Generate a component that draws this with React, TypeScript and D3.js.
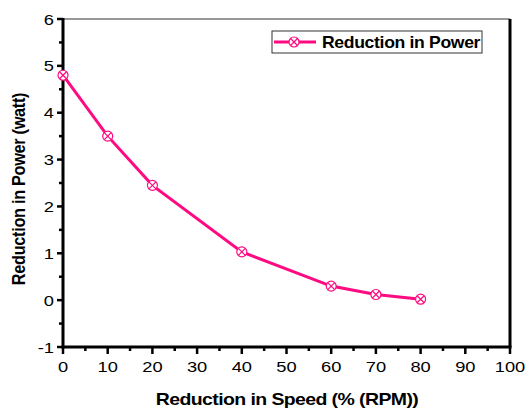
import React from "react";
import * as d3 from "d3";

const speed = [0, 10, 20, 40, 60, 70, 80];
const power = [4.8, 3.5, 2.45, 1.03, 0.3, 0.12, 0.02];
const xTicks = [0, 10, 20, 30, 40, 50, 60, 70, 80, 90, 100];
const yTicks = [-1, 0, 1, 2, 3, 4, 5, 6];
const xMinor = d3.range(5, 100, 10);
const yMinor = d3.range(-0.5, 6, 1);
const seriesName = "Reduction in Power";
const xTitle = "Reduction in Speed (% (RPM))";
const yTitle = "Reduction in Power (watt)";

const COLOR = "#ff0a80";
const FONT = "'Liberation Sans', Arial, sans-serif";
const SX = 1.18;

function Marker({ x, y }: { x: number; y: number }) {
  const r = 5;
  const d = r * 0.7;
  return (
    <g>
      <circle cx={x} cy={y} r={r} fill="white" stroke={COLOR} strokeWidth={1.2} />
      <line x1={x - d} y1={y - d} x2={x + d} y2={y + d} stroke={COLOR} strokeWidth={1.2} />
      <line x1={x - d} y1={y + d} x2={x + d} y2={y - d} stroke={COLOR} strokeWidth={1.2} />
    </g>
  );
}

export default function App() {
  const W = 525, H = 409;
  const left = 63, right = 510, top = 19, bottom = 347;
  const x = d3.scaleLinear().domain([0, 100]).range([left, right]);
  const y = d3.scaleLinear().domain([-1, 6]).range([bottom, top]);
  const line = d3.line<number>().x((_, i) => x(speed[i])).y((d) => y(d));

  return (
    <svg width={W} height={H} style={{ position: "absolute", left: 0, top: 0 }} fontFamily={FONT}>
      <rect x={0} y={0} width={W} height={H} fill="white" />
      {/* frame */}
      <line x1={left} y1={top} x2={right} y2={top} stroke="#333" strokeWidth={1} />
      <line x1={right} y1={top} x2={right} y2={bottom} stroke="#000" strokeWidth={3} />
      <line x1={left} y1={top - 1} x2={left} y2={bottom + 1.5} stroke="#000" strokeWidth={3} />
      <line x1={left - 1.5} y1={bottom} x2={right + 1.5} y2={bottom} stroke="#000" strokeWidth={3} />
      {/* x ticks */}
      {xTicks.map((t) => (
        <g key={"xt" + t}>
          <line x1={x(t)} x2={x(t)} y1={bottom} y2={bottom + 7} stroke="#000" strokeWidth={2.5} />
          <text transform={`translate(${x(t)},${bottom + 24.5}) scale(${SX},1)`} textAnchor="middle" fontSize={15.5}>{t}</text>
        </g>
      ))}
      {xMinor.map((t) => (
        <line key={"xm" + t} x1={x(t)} x2={x(t)} y1={bottom} y2={bottom + 4} stroke="#000" strokeWidth={2.5} />
      ))}
      {/* y ticks */}
      {yTicks.map((t) => (
        <g key={"yt" + t}>
          <line x1={left - 6} x2={left} y1={y(t)} y2={y(t)} stroke="#000" strokeWidth={2.5} />
          <text transform={`translate(${left - 9},${y(t) + 5.5}) scale(${SX},1)`} textAnchor="end" fontSize={15.5}>{t}</text>
        </g>
      ))}
      {yMinor.map((t) => (
        <line key={"ym" + t} x1={left - 4} x2={left} y1={y(t)} y2={y(t)} stroke="#000" strokeWidth={2.5} />
      ))}
      {/* titles */}
      <text transform={`translate(287,405) scale(${SX},1)`} textAnchor="middle" fontSize={16.5} fontWeight="bold" letterSpacing={-0.5}>{xTitle}</text>
      <text transform={`translate(25,189) scale(${SX},1) rotate(-90)`} textAnchor="middle" fontSize={16.3} fontWeight="bold" letterSpacing={-0.3}>{yTitle}</text>
      {/* series */}
      <path d={line(power) || ""} fill="none" stroke={COLOR} strokeWidth={3} />
      {power.map((v, i) => (
        <Marker key={"m" + i} x={x(speed[i])} y={y(v)} />
      ))}
      {/* legend */}
      <rect x={272} y={31} width={210} height={22} fill="white" stroke="#333" strokeWidth={1} />
      <line x1={274} x2={316} y1={42} y2={42} stroke={COLOR} strokeWidth={3} />
      <Marker x={294} y={42} />
      <text transform={`translate(322,48) scale(1.1,1)`} fontSize={16} fontWeight="bold" letterSpacing={-0.3}>{seriesName}</text>
    </svg>
  );
}
